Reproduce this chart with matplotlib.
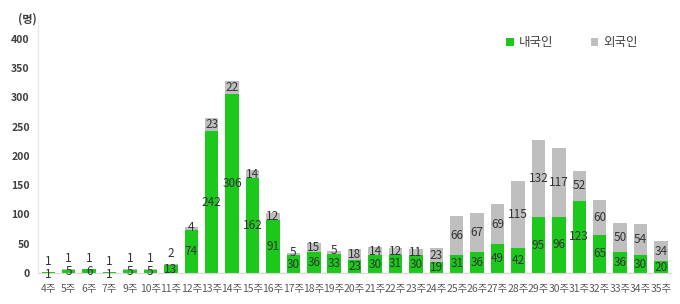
import matplotlib
matplotlib.use('Agg')
import matplotlib.pyplot as plt

plt.rcParams['font.family'] = ['Noto Sans CJK KR', 'DejaVu Sans']

# weekly counts, domestic vs foreign
weeks = ['4주', '5주', '6주', '7주', '9주', '10주', '11주', '12주', '13주', '14주',
         '15주', '16주', '17주', '18주', '19주', '20주', '21주', '22주', '23주', '24주',
         '25주', '26주', '27주', '28주', '29주', '30주', '31주', '32주', '33주', '34주', '35주']
domestic = [1, 5, 6, 1, 5, 5, 13, 74, 242, 306, 162, 91, 30, 36, 33, 23, 30, 31, 30, 19,
            31, 36, 49, 42, 95, 96, 123, 65, 36, 30, 20]
foreign = [1, 1, 1, 1, 1, 1, 2, 4, 23, 22, 14, 12, 5, 15, 5, 18, 14, 12, 11, 23,
           66, 67, 69, 115, 132, 117, 52, 60, 50, 54, 34]

green = '#1dc81d'
grey = '#bfbfbf'
txt = '#333333'

fig = plt.figure(figsize=(6.8, 3.04), dpi=100)
ax = fig.add_axes([0.056, 0.102, 0.931, 0.832])

x = list(range(len(weeks)))
ax.bar(x, domestic, width=0.66, color=green, label='내국인')
ax.bar(x, foreign, width=0.66, bottom=domestic, color=grey, label='외국인')

# value labels
for i in x:
    d, f = domestic[i], foreign[i]
    dy = 0
    if d < 3:
        dy = -1.5
    ax.annotate(str(d), (i, d / 2), xytext=(0, dy), textcoords='offset points',
                ha='center', va='center', fontsize=8.5, color=txt)
    fy = 0
    if f < 6 and d + f < 20:
        fy = 8
    elif f < 6:
        fy = 1
    ax.annotate(str(f), (i, d + f / 2), xytext=(0, fy), textcoords='offset points',
                ha='center', va='center', fontsize=8.5, color=txt)

ax.set_xlim(-0.5, len(weeks) - 0.5)
ax.set_ylim(0, 432)
ax.set_yticks(range(0, 401, 50))
ax.set_xticks(x)
ax.set_xticklabels(weeks, fontsize=7.5, color='#595959')
for lab in ax.get_yticklabels():
    lab.set_fontsize(7.5)
    lab.set_fontweight('bold')
    lab.set_color('#404040')
ax.tick_params(axis='y', length=0, pad=6)
ax.tick_params(axis='x', length=0, pad=8)

for s in ['top', 'right']:
    ax.spines[s].set_visible(False)
ax.spines['left'].set_color('#e6e6e6')
ax.spines['bottom'].set_color('#d9d9d9')

fig.text(0.027, 0.925, '(명)', fontsize=8, fontweight='bold', color='#404040')

ax.legend(loc='upper right', bbox_to_anchor=(0.965, 0.98), ncol=2, frameon=False,
          fontsize=9, handlelength=0.6, handleheight=0.6, columnspacing=3.0,
          handletextpad=0.4, labelcolor='#404040')

fig.savefig('out.png', dpi=100)
